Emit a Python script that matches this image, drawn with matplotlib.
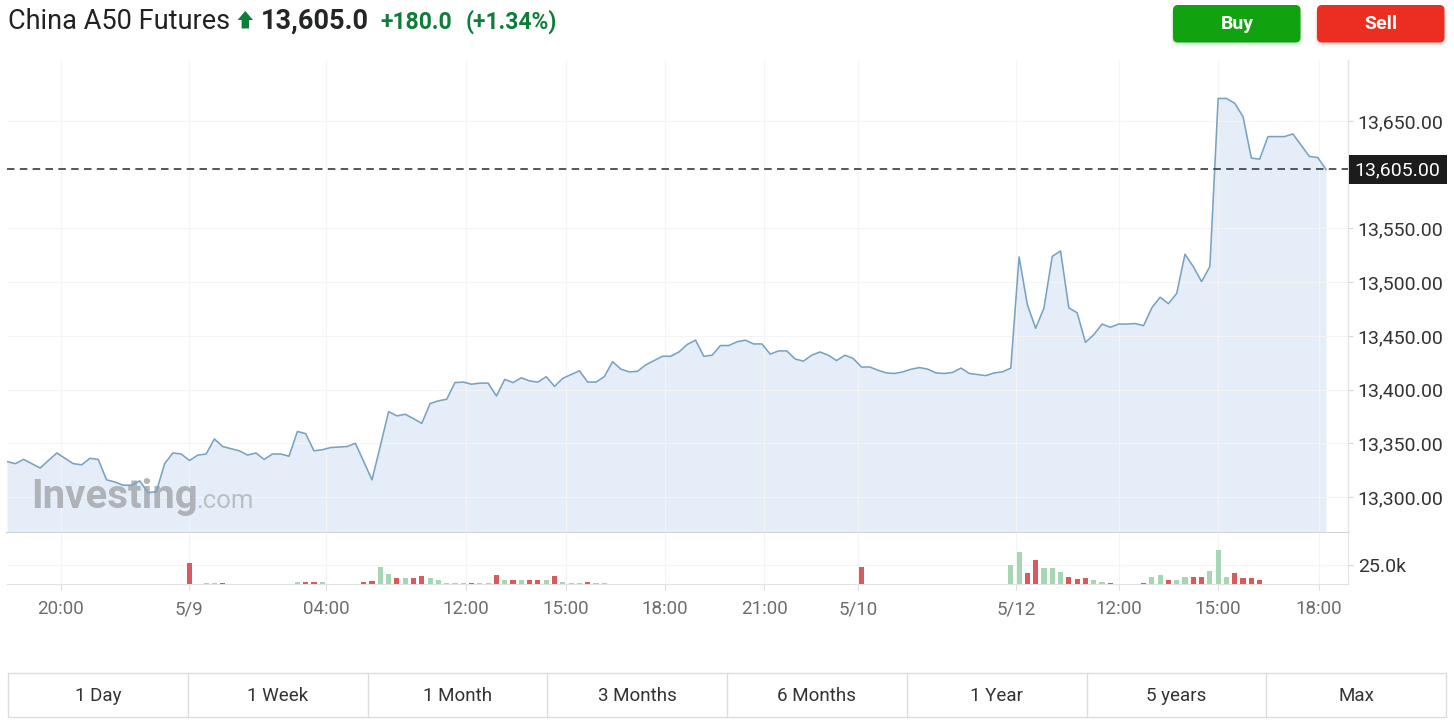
import matplotlib
matplotlib.use("Agg")
import matplotlib.pyplot as plt
from matplotlib.patches import FancyBboxPatch, Polygon, Rectangle
import numpy as np

# ---------------- data ----------------
title = "China A50 Futures"
last_price = 13605.0
change = 180.0
change_pct = 1.34

price = [
    13333, 13331, 13335, 13331, 13327, 13334, 13341, 13336, 13331, 13330,
    13336, 13335, 13316, 13314, 13311, 13311, 13315, 13304, 13305, 13331,
    13341, 13340, 13334, 13339, 13340, 13354, 13347, 13345, 13343, 13339,
    13341, 13335, 13340, 13340, 13338, 13361, 13359, 13343, 13344, 13346,
    13346.5, 13347,
    13350, 13333, 13316, 13347.5, 13379.5, 13375.5, 13377, 13373, 13368.5, 13387,
    13389.5, 13391, 13406.5, 13407, 13405, 13406, 13406, 13394, 13409.5, 13406.5,
    13411, 13408, 13407, 13412, 13403, 13410.5, 13414, 13417.5, 13407, 13407,
    13412, 13426, 13419, 13416.5, 13417, 13423, 13427, 13431, 13431, 13435,
    13442, 13446, 13431, 13432, 13441, 13441, 13444.5, 13446, 13442.5, 13442.5,
    13433, 13436, 13436, 13428.5, 13426.5, 13432, 13435, 13432, 13427, 13432,
    13429, 13421, 13421, 13418, 13415.5, 13415, 13416.5, 13419, 13420.5, 13419,
    13415.5, 13415, 13416, 13420, 13415, 13414, 13413, 13415.5, 13416.5, 13420,
    13523.5, 13479, 13457, 13476, 13524, 13529, 13476, 13471.5, 13444, 13451,
    13461, 13458, 13461, 13461, 13461.5, 13459.5, 13476, 13486, 13480, 13489.5,
    13526, 13514.5, 13500.5, 13514.5, 13671, 13671, 13666.5, 13654, 13615.5, 13614.5,
    13635.5, 13635.5, 13635.5, 13638, 13627.5, 13617, 13616, 13605,
]

volume_k = [
    0, 0, 0, 0, 0, 0, 0, 0, 0, 0,
    0, 0, 0, 0, 0, 0, 0, 0, 0, 0,
    0, 0, 28, 0, 1.2, 1.2, 1.2, 0, 0, 0,
    0, 0, 0, 0, 0, 2, 2, 2, 2, 0,
    0, 0, 0, 1.4, 3.4, 22.8, 12.3, 7.5, 6.8, 6.8,
    9.5, 6.8, 4.8, 1.2, 1.2, 1.2, 1.2, 1.2, 1.2, 11,
    4.8, 4.8, 4.8, 4.8, 4.8, 4.8, 9.5, 2.7, 1.2, 1.2,
    2.7, 1.2, 1.2, 0, 0, 0, 0, 0, 0, 0,
    0, 0, 0, 0, 0, 0, 0, 0, 0, 0,
    0, 0, 0, 0, 0, 0, 0, 0, 0, 0,
    0, 0, 0, 22.8, 0, 0, 0, 0, 0, 0,
    0, 0, 0, 0, 0, 0, 0, 0, 0, 0,
    0, 25, 43, 13.7, 32, 20.5, 20.5, 16, 9.1, 5.5,
    6.8, 4.5, 1.4, 1.2, 0, 0, 0, 1.2, 9.1, 11.4,
    4.5, 4.5, 9.1, 9.1, 9.1, 17.3, 45.5, 9.1, 13.7, 6.8,
    6.8, 4.5, 0, 0, 0, 0, 0, 0, 0, 0,
]

time_tick_pos = [6.45, 21.9, 38.45, 55.27, 67.34, 79.3, 91.3, 102.6, 121.6, 134.0, 146.0, 158.1]
time_tick_labels = ["20:00", "5/9", "04:00", "12:00", "15:00", "18:00",
                    "21:00", "5/10", "5/12", "12:00", "15:00", "18:00"]
price_ticks = [13300, 13350, 13400, 13450, 13500, 13550, 13650]
volume_ticks_k = [25.0]
range_buttons = ["1 Day", "1 Week", "1 Month", "3 Months", "6 Months", "1 Year", "5 years", "Max"]

# ---------------- style ----------------
plt.rcParams['font.family'] = ['Roboto', 'DejaVu Sans']
W, H = 1454, 720
LINE = '#78a2c3'
FILL = '#e5eef8'
UP_GREEN = '#0e7d3a'
VOL_UP = '#a6d6b4'
VOL_DN = '#d95a5c'
LABEL = '#333333'
XLABEL = '#6e6e6e'
GRID = '#f4f4f4'


def fx(px):
    return px / W


def fy(py):
    return 1 - py / H


fig = plt.figure(figsize=(W / 100, H / 100), dpi=100)
fig.patch.set_facecolor('white')

x = np.arange(len(price))
x_right = 161.65
ymin, ymax = 13266.5, 13706.8

# ---------------- price panel ----------------
ax = fig.add_axes([fx(7), fy(533), fx(1348) - fx(7), fy(60) - fy(533)])
ax.set_xlim(0, x_right)
ax.set_ylim(ymin, ymax)
ax.fill_between(x, price, ymin, color=FILL, lw=0, zorder=1)
ax.plot(x, price, color=LINE, lw=1.15, zorder=3)
ax.axhline(last_price, color='#3a3a3a', lw=1.2, dashes=(4.5, 3.2), zorder=4)

ax.set_xticks(time_tick_pos)
ax.tick_params(axis='x', length=0, labelbottom=False)
ax.yaxis.tick_right()
ax.set_yticks(price_ticks)
ax.set_yticklabels([f"{v:,.2f}" for v in price_ticks])
ax.tick_params(axis='y', length=3.5, width=0.8, color='#d8d8d8', pad=3.5,
               labelsize=14, labelcolor=LABEL)
ax.grid(True, color=GRID, lw=0.8, zorder=0)
for s in ['top', 'left']:
    ax.spines[s].set_visible(False)
ax.spines['bottom'].set_color('#cccccc')
ax.spines['bottom'].set_linewidth(1.2)
ax.spines['right'].set_color('#e4e4e4')
ax.spines['right'].set_linewidth(1.0)

# watermark
ax.text(0.018, 0.053, "Investing", transform=ax.transAxes, fontsize=29, fontweight='bold',
        color='#a9adb2', alpha=0.9, ha='left', va='baseline', zorder=2)
ax.text(0.141, 0.053, ".com", transform=ax.transAxes, fontsize=18.5,
        color='#b6babf', alpha=0.9, ha='left', va='baseline', zorder=2)

# ---------------- volume panel ----------------
axv = fig.add_axes([fx(7), fy(583.5), fx(1348) - fx(7), fy(533) - fy(583.5)])
axv.set_xlim(0, x_right)
axv.set_ylim(0, 68200)
vol = np.array(volume_k) * 1000
colors = [VOL_UP if (i == 0 or price[i] >= price[i - 1]) else VOL_DN for i in range(len(price))]
axv.bar(x, vol, width=0.62, color=colors, zorder=3)
axv.set_xticks(time_tick_pos)
axv.set_xticklabels(time_tick_labels)
axv.tick_params(axis='x', length=4, width=0.8, color='#dddddd', pad=8,
                labelsize=13.5, labelcolor=XLABEL)
axv.yaxis.tick_right()
axv.set_yticks([v * 1000 for v in volume_ticks_k])
axv.set_yticklabels([f"{v:.1f}k" for v in volume_ticks_k])
axv.tick_params(axis='y', length=3.5, width=0.8, color='#d8d8d8', pad=3.5,
                labelsize=14, labelcolor=LABEL)
axv.grid(True, color=GRID, lw=0.8, zorder=0)
for s in ['top', 'left']:
    axv.spines[s].set_visible(False)
axv.spines['bottom'].set_color('#e2e2e2')
axv.spines['right'].set_color('#e4e4e4')

# ---------------- overlay (header, buttons, price tag) ----------------
ov = fig.add_axes([0, 0, 1, 1], zorder=20)
ov.set_xlim(0, W)
ov.set_ylim(H, 0)
ov.axis('off')
ov.patch.set_alpha(0)

# current price tag, placed at the pixel row of last_price on the price axis
tag_y = H - ax.transData.transform((0, last_price))[1]
ov.add_patch(Rectangle((1348.5, tag_y - 14), 98.5, 28.5, fc='#1c1c1c', ec='none'))
ov.text(1397.5, tag_y + 0.5, f"{last_price:,.2f}", fontsize=14, color='white',
        ha='center', va='center')

ov.text(8, 29, title, fontsize=19.5, color='#222222', ha='left', va='baseline')
ov.add_patch(Polygon([(245.3, 11), (253, 20), (249, 20), (249, 28.5),
                      (241.6, 28.5), (241.6, 20), (237.6, 20)],
                     closed=True, fc=UP_GREEN, ec='none'))
ov.text(261, 29, f"{last_price:,.1f}", fontsize=19.5, fontweight='bold',
        color='#232526', ha='left', va='baseline')
ov.text(380, 29, f"+{change:.1f}", fontsize=16.5, fontweight='bold',
        color=UP_GREEN, ha='left', va='baseline')
ov.text(466, 29, f"(+{change_pct:.2f}%)", fontsize=16.5, fontweight='bold',
        color=UP_GREEN, ha='left', va='baseline')

# Buy / Sell buttons
for x0, fc, shadow, label in [(1173, '#10a30f', '#8fd48f', 'Buy'),
                              (1317, '#ec2e22', '#f4a09a', 'Sell')]:
    for k, a in [(4, 0.10), (2.5, 0.14), (1.2, 0.2)]:
        ov.add_patch(FancyBboxPatch((x0 - k * 0.5, 5 + k), 127.5 + k, 37.5,
                                    boxstyle="round,pad=0,rounding_size=6",
                                    fc=shadow, ec='none', alpha=a))
    ov.add_patch(FancyBboxPatch((x0, 5), 127.5, 37.5,
                                boxstyle="round,pad=0,rounding_size=5",
                                fc=fc, ec='none'))
    ov.text(x0 + 63.75, 24, label, fontsize=14, fontweight='bold', color='white',
            ha='center', va='center')

# time range bar
bx0, bx1, by0, by1 = 8, 1446, 673, 717
cw = (bx1 - bx0) / len(range_buttons)
ov.add_patch(Rectangle((bx0, by0), bx1 - bx0, by1 - by0, fc='white', ec='#dcdcdc', lw=1.0))
for i, lab in enumerate(range_buttons):
    if i > 0:
        ov.plot([bx0 + i * cw] * 2, [by0, by1], color='#dcdcdc', lw=1.0)
    ov.text(bx0 + (i + 0.5) * cw, (by0 + by1) / 2 + 1, lab, fontsize=13.5,
            color='#333333', ha='center', va='center')

fig.savefig("out.png", dpi=100, facecolor='white')
